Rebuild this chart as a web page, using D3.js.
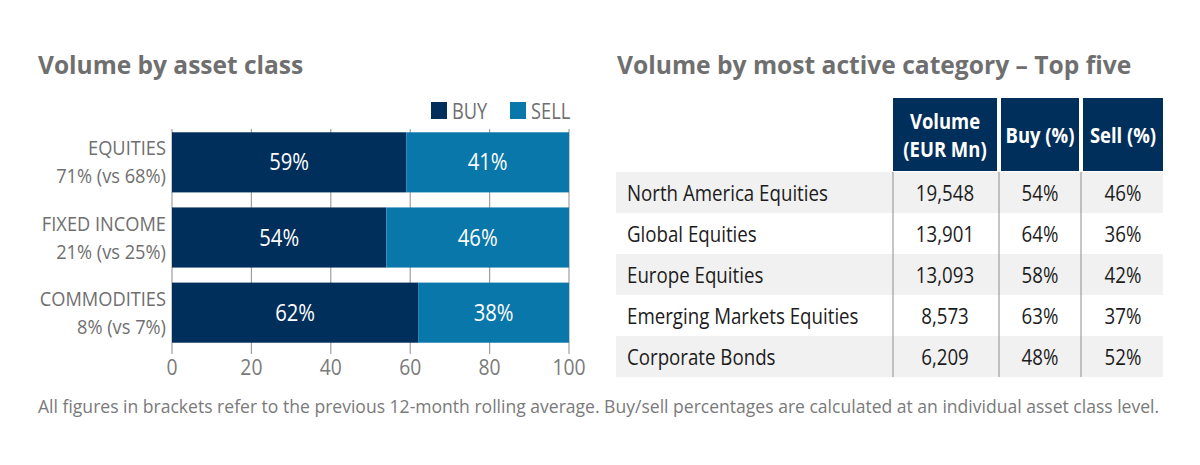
<!DOCTYPE html>
<html>
<head>
<meta charset="utf-8">
<script src="https://cdn.jsdelivr.net/npm/d3@7"></script>
<style>
  html, body { margin: 0; padding: 0; background: #fff; }
  svg { display: block; font-family: "Open Sans", "Noto Sans", sans-serif; }
</style>
</head>
<body>
<div id="chart"></div>
<script>
// ---- data ----
const categories = ["EQUITIES", "FIXED INCOME", "COMMODITIES"];
const shareLabels = ["71% (vs 68%)", "21% (vs 25%)", "8% (vs 7%)"];
const buyPct = [59, 54, 62];
const sellPct = [41, 46, 38];
const xTicks = [0, 20, 40, 60, 80, 100];

const tableHeaders = [["Volume", "(EUR Mn)"], ["Buy (%)"], ["Sell (%)"]];
const tableRows = ["North America Equities", "Global Equities", "Europe Equities",
                   "Emerging Markets Equities", "Corporate Bonds"];
const tableVolume = [19548, 13901, 13093, 8573, 6209];
const tableBuy = [54, 64, 58, 63, 48];
const tableSell = [46, 36, 42, 37, 52];

const footnote = "All figures in brackets refer to the previous 12-month rolling average. Buy/sell percentages are calculated at an individual asset class level.";

// ---- style ----
const NAVY = "#012f5c";
const BLUE = "#0a77aa";
const GREY_TXT = "#6f6f70";
const GRID = "#a0a0a0";
const ROW_BG = "#f1f1f1";
const SX = 0.82; // condensed look

const W = 1200, H = 465;
const svg = d3.select("#chart").append("svg").attr("width", W).attr("height", H);

// text helper: squeezed horizontally around its anchor
function ctext(parent, x, y, str, o = {}) {
  const g = parent.append("g").attr("transform", `translate(${x},${y}) scale(${o.sx ?? SX},1)`);
  return g.append("text")
    .text(str)
    .attr("text-anchor", o.anchor || "start")
    .attr("font-size", o.size || 22)
    .attr("font-weight", o.weight || 400)
    .attr("fill", o.fill || GREY_TXT);
}

// ---- titles ----
svg.append("text").attr("x", 38).attr("y", 74)
  .text("Volume by asset class")
  .attr("font-size", 24.5).attr("font-weight", 700).attr("fill", GREY_TXT);
svg.append("text").attr("x", 617).attr("y", 74)
  .text("Volume by most active category \u2013 Top five")
  .attr("font-size", 24.6).attr("font-weight", 700).attr("fill", GREY_TXT);

// ---- left: stacked bars ----
const x = d3.scaleLinear().domain([0, 100]).range([172, 569]);
const y = d3.scaleBand().domain(categories).range([121, 354]).paddingInner(0.2).paddingOuter(0.15);

const grid = svg.append("g");
grid.selectAll("line").data(xTicks).join("line")
  .attr("x1", d => x(d)).attr("x2", d => x(d))
  .attr("y1", y.range()[0] + 8).attr("y2", 354)
  .attr("stroke", GRID).attr("stroke-width", 1.2);

const axis = svg.append("g").attr("transform", "translate(0,354)")
  .call(d3.axisBottom(x).tickValues(xTicks).tickSize(0).tickPadding(0));
axis.select(".domain").remove();
axis.selectAll("text").remove();
xTicks.forEach(t => ctext(svg, x(t), 375, t, { anchor: "middle", size: 21, sx: 0.92, fill: "#7a7a7a" }));

const rows = categories.map((c, i) => ({ c, buy: buyPct[i], sell: sellPct[i], share: shareLabels[i] }));

svg.append("g").selectAll("rect.buy").data(rows).join("rect")
  .attr("x", x(0)).attr("y", d => y(d.c))
  .attr("width", d => x(d.buy) - x(0)).attr("height", y.bandwidth())
  .attr("fill", NAVY);
svg.append("g").selectAll("rect.sell").data(rows).join("rect")
  .attr("x", d => x(d.buy)).attr("y", d => y(d.c))
  .attr("width", d => x(d.buy + d.sell) - x(d.buy)).attr("height", y.bandwidth())
  .attr("fill", BLUE);

rows.forEach(d => {
  const cy = y(d.c) + y.bandwidth() / 2;
  ctext(svg, (x(0) + x(d.buy)) / 2, cy + 8, d.buy + "%", { anchor: "middle", fill: "#fff", size: 23, sx: 0.88 });
  ctext(svg, (x(d.buy) + x(100)) / 2, cy + 8, d.sell + "%", { anchor: "middle", fill: "#fff", size: 23, sx: 0.88 });
  // two lines, kept far enough apart that their boxes don't touch
  ctext(svg, 166, cy - 7, d.c, { anchor: "end", size: 20.5, sx: 0.89 });
  ctext(svg, 166, cy + 21, d.share, { anchor: "end", size: 20.5, sx: 0.89 });
});

// legend
const legend = [["BUY", NAVY, 431], ["SELL", BLUE, 510]];
legend.forEach(([lab, col, lx]) => {
  svg.append("rect").attr("x", lx).attr("y", 102).attr("width", 16).attr("height", 17).attr("fill", col);
  ctext(svg, lx + 21, 119, lab, { size: 22, sx: 0.83 });
});

// ---- right: table ----
const cols = [[893, 997], [1001, 1079], [1083, 1163]];
const tTop = 98, hBottom = 171, rowH = 41;
const tLeft = 616, tRight = 1163;

cols.forEach(([a, b], i) => {
  svg.append("rect").attr("x", a).attr("y", tTop).attr("width", b - a).attr("height", hBottom - tTop).attr("fill", NAVY);
  const lines = tableHeaders[i];
  const cx = (a + b) / 2;
  const cy = (tTop + hBottom) / 2;
  lines.forEach((ln, j) => {
    const by = cy + 8 + (j - (lines.length - 1) / 2) * 28;
    ctext(svg, cx, by, ln, { anchor: "middle", size: 20.5, weight: 700, fill: "#fff", sx: 0.9 });
  });
});

const fmt = d3.format(",");
const body = svg.append("g");
tableRows.forEach((r, i) => {
  const ry = hBottom + 1 + i * rowH;
  if (i % 2 === 0)
    body.append("rect").attr("x", tLeft).attr("y", ry).attr("width", tRight - tLeft).attr("height", rowH).attr("fill", ROW_BG);
  const base = ry + rowH / 2 + 8;
  const o = { fill: "#1c1c1c", size: 22, sx: 0.85 };
  ctext(body, 627, base, r, o);
  ctext(body, 945, base, fmt(tableVolume[i]), { ...o, anchor: "middle" });
  ctext(body, 1040, base, tableBuy[i] + "%", { ...o, anchor: "middle" });
  ctext(body, 1123, base, tableSell[i] + "%", { ...o, anchor: "middle" });
});
[893, 999, 1081].forEach(lx => {
  body.append("line").attr("x1", lx).attr("x2", lx)
    .attr("y1", hBottom + 1).attr("y2", hBottom + 1 + rowH * tableRows.length)
    .attr("stroke", "#8c8c8c").attr("stroke-width", 1);
});

// ---- footnote (fitted to its width) ----
const fn = ctext(svg, 38, 413, footnote, { size: 17.5, sx: 1, fill: "#7a7a7a" });
const natural = fn.node().getComputedTextLength();
fn.node().parentNode.setAttribute("transform", `translate(38,413) scale(${1122 / natural},1)`);
</script>
</body>
</html>
